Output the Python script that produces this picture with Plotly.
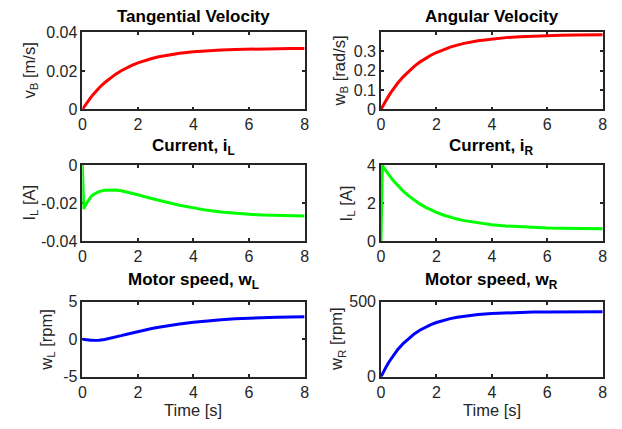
import plotly.graph_objects as go

# ---- data ----
t = [0, 0.05, 0.1, 0.2, 0.3, 0.4, 0.5, 0.6, 0.8, 1.0, 1.2, 1.4, 1.6, 1.8, 2.0,
     2.25, 2.5, 2.75, 3.0, 3.5, 4.0, 4.5, 5.0, 5.5, 6.0, 6.5, 7.0, 7.5, 8.0]

v_B = [0, 0.00112, 0.00219, 0.00423, 0.00613, 0.00790, 0.00955, 0.01109, 0.01384,
       0.01623, 0.01830, 0.02010, 0.02166, 0.02301, 0.02418, 0.02542, 0.02647,
       0.02734, 0.02807, 0.02919, 0.02997, 0.03052, 0.03091, 0.03117, 0.03136,
       0.03149, 0.03159, 0.03165, 0.03170]

w_B = [0, 0.0136, 0.0266, 0.0514, 0.0745, 0.0959, 0.1159, 0.1346, 0.1680, 0.1971,
       0.2222, 0.2440, 0.2629, 0.2793, 0.2935, 0.3086, 0.3213, 0.3318, 0.3407,
       0.3543, 0.3638, 0.3705, 0.3752, 0.3784, 0.3807, 0.3823, 0.3834, 0.3842, 0.3847]

i_L = [0, -0.0232, -0.0215, -0.0188, -0.0168, -0.0155, -0.0146, -0.0140, -0.0133,
       -0.0131, -0.0132, -0.0136, -0.0142, -0.0149, -0.0157, -0.0167, -0.0177,
       -0.0186, -0.0195, -0.0212, -0.0227, -0.0239, -0.0248, -0.0255, -0.0260,
       -0.0264, -0.0266, -0.0268, -0.0269]

i_R = [0, 3.98, 3.866, 3.651, 3.449, 3.262, 3.086, 2.922, 2.627, 2.370, 2.146,
       1.951, 1.780, 1.632, 1.503, 1.365, 1.248, 1.150, 1.068, 0.941, 0.850, 0.786,
       0.740, 0.708, 0.685, 0.669, 0.658, 0.650, 0.644]

w_L = [0, -0.03, -0.06, -0.10, -0.13, -0.14, -0.135, -0.11, -0.02, 0.12, 0.30, 0.49,
       0.68, 0.87, 1.05, 1.26, 1.45, 1.62, 1.78, 2.05, 2.28, 2.47, 2.62, 2.74, 2.83,
       2.90, 2.95, 2.98, 3.00]

w_R = [0, 19.0, 37.2, 71.1, 102.2, 130.6, 156.6, 180.4, 222.1, 256.9, 286.0, 310.4,
       330.7, 347.8, 362.1, 376.7, 388.3, 397.7, 405.1, 415.9, 422.8, 427.2, 430.0,
       431.8, 433.0, 433.7, 434.2, 434.5, 434.7]

x_ticks = [0, 2, 4, 6, 8]
titles = ["Tangential Velocity", "Angular Velocity",
          "Current, i<sub>L</sub>", "Current, i<sub>R</sub>",
          "Motor speed, w<sub>L</sub>", "Motor speed, w<sub>R</sub>"]
ylabels = ["v<sub>B</sub> [m/s]", "w<sub>B</sub> [rad/s]",
           "I<sub>L</sub> [A]", "I<sub>L</sub> [A]",
           "w<sub>L</sub> [rpm]", "w<sub>R</sub> [rpm]"]
y_ranges = [[0, 0.04], [0, 0.397], [-0.04, 0], [0, 4], [-5, 5], [0, 500]]
y_tickvals = [[0, 0.02, 0.04], [0, 0.1, 0.2, 0.3], [-0.04, -0.02, 0],
              [0, 2, 4], [-5, 0, 5], [0, 500]]
y_ticktext = [["0", "0.02", "0.04"], ["0", "0.1", "0.2", "0.3"],
              ["-0.04", "-0.02", "0"], ["0", "2", "4"], ["-5", "0", "5"], ["0", "500"]]
series = [v_B, w_B, i_L, i_R, w_L, w_R]
colors = ["#ff0000", "#ff0000", "#00ff00", "#00ff00", "#0000ff", "#0000ff"]

# ---- layout geometry (figure pixels) ----
W, H = 622, 429
cols = [(79.5, 305), (382.5, 607.5)]
rows = [(25.5, 105.5), (163.5, 242.5), (306, 384)]
ylabel_x = [26, 340.5, 26, 347.5, 44, 338.5]
title_y = [9, 145, 284.5]
time_y = 419

FONT = "Liberation Sans, Arial, sans-serif"
fig = go.Figure()
ax_font = dict(family=FONT, size=16, color="#262626")
annotations = []
for k in range(6):
    r, c = divmod(k, 2)
    n = "" if k == 0 else str(k + 1)
    x0, x1 = cols[c]
    y0, y1 = rows[r]
    fig.add_trace(go.Scatter(x=t, y=series[k], mode="lines",
                             line=dict(color=colors[k], width=3),
                             xaxis="x" + n, yaxis="y" + n, showlegend=False))
    common = dict(showline=True, linecolor="#262626", linewidth=1.5, mirror="ticks",
                  ticks="inside", ticklen=3, tickwidth=1.5, tickcolor="#262626",
                  showgrid=False, zeroline=False, tickfont=ax_font, layer="below traces")
    fig.layout["xaxis" + n] = dict(common, domain=[x0 / W, x1 / W], range=[0, 8],
                                   tickvals=x_ticks, ticktext=[str(v) for v in x_ticks],
                                   anchor="y" + n)
    fig.layout["yaxis" + n] = dict(common, domain=[1 - y1 / H, 1 - y0 / H],
                                   range=y_ranges[k], tickvals=y_tickvals[k],
                                   ticktext=y_ticktext[k], anchor="x" + n)
    annotations.append(dict(text="<b>" + titles[k] + "</b>", xref="paper", yref="paper",
                            x=(x0 + x1) / 2 / W, y=1 - title_y[r] / H,
                            xanchor="center", yanchor="middle", showarrow=False,
                            font=dict(family=FONT, size=17, color="#000000")))
    annotations.append(dict(text=ylabels[k], xref="paper", yref="paper",
                            x=ylabel_x[k] / W, y=1 - (y0 + y1) / 2 / H,
                            xanchor="center", yanchor="middle", textangle=-90,
                            showarrow=False,
                            font=dict(family=FONT, size=16.5, color="#262626")))
    if r == 2:
        annotations.append(dict(text="Time [s]", xref="paper", yref="paper",
                                x=(x0 + x1) / 2 / W, y=1 - time_y / H,
                                xanchor="center", yanchor="middle", showarrow=False,
                                font=dict(family=FONT, size=16.5, color="#262626")))

fig.update_layout(width=W, height=H, margin=dict(l=0, r=0, t=0, b=0),
                  paper_bgcolor="white", plot_bgcolor="white",
                  annotations=annotations, showlegend=False)
fig.write_html("out.html")
